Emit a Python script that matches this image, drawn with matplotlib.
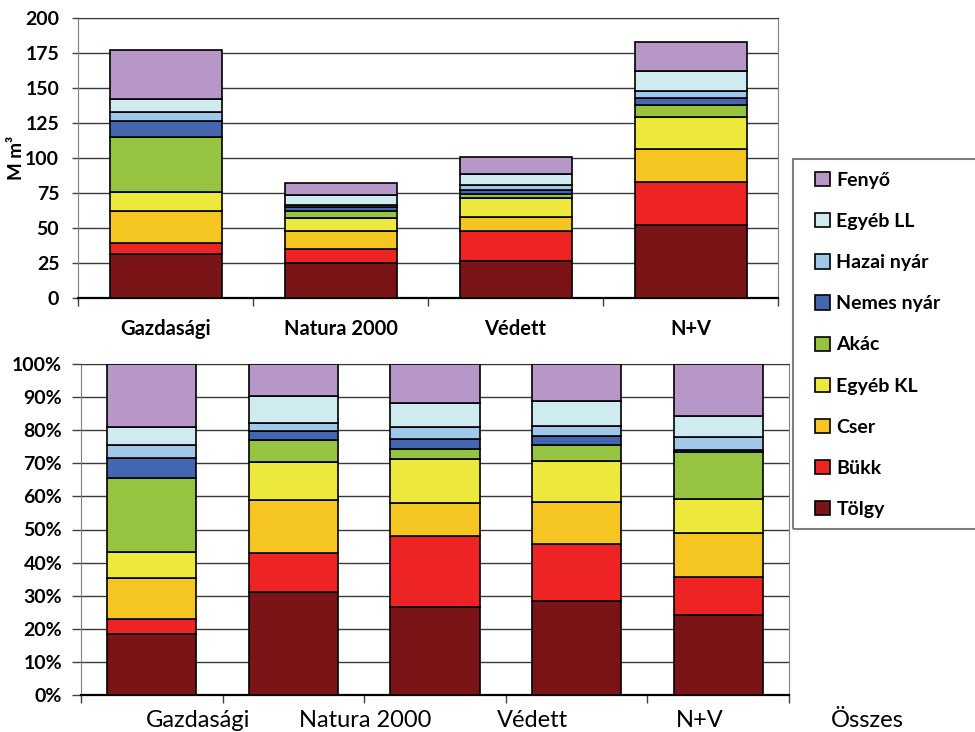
import numpy as np
import matplotlib
matplotlib.use("Agg")
import matplotlib.pyplot as plt
from matplotlib.patches import Patch, Rectangle

plt.rcParams['font.family'] = ['Lato', 'DejaVu Sans']

# species, bottom of stack first
species = ["Tölgy", "Bükk", "Cser", "Egyéb KL", "Akác",
           "Nemes nyár", "Hazai nyár", "Egyéb LL", "Fenyő"]
colors = ["#7B1416", "#EE2424", "#F5C622", "#EDE93C", "#96C340",
          "#4466B0", "#A0C8EA", "#D0EBF0", "#B797C8"]

# top chart: volume, M m3
cats_top = ["Gazdasági", "Natura 2000", "Védett", "N+V"]
vol_gazd = [31.4, 8.1, 22.9, 13.1, 39.7, 11.2, 6.5, 9.5, 34.5]
vol_natura = [25.2, 10.0, 12.9, 8.8, 5.5, 2.4, 1.9, 6.9, 8.3]
vol_vedett = [26.4, 21.7, 10.0, 13.3, 2.7, 3.3, 3.3, 7.9, 12.3]
vol_nv = [52.1, 31.0, 23.3, 23.1, 8.4, 4.7, 5.5, 14.3, 20.7]

# bottom chart: share, %
cats_bottom = ["Gazdasági", "Natura 2000", "Védett", "N+V", "Összes"]
pct_gazd = [18.3, 4.6, 12.3, 8.0, 22.3, 6.2, 3.8, 5.4, 19.1]
pct_natura = [31.1, 11.8, 16.1, 11.5, 6.6, 2.8, 2.2, 8.2, 9.7]
pct_vedett = [26.5, 21.6, 9.8, 13.3, 3.0, 3.1, 3.8, 7.0, 11.9]
pct_nv = [28.5, 17.2, 12.7, 12.3, 4.8, 2.6, 3.2, 7.6, 11.1]
pct_osszes = [24.3, 11.4, 13.1, 10.5, 14.1, 0.6, 3.8, 6.5, 15.7]

top = np.array([vol_gazd, vol_natura, vol_vedett, vol_nv]).T
bottom = np.array([pct_gazd, pct_natura, pct_vedett, pct_nv, pct_osszes]).T

W, H = 975, 732
fig = plt.figure(figsize=(W / 100, H / 100), dpi=100)
ax1 = fig.add_axes([78 / W, 1 - 298 / H, 700 / W, 280 / H])
ax2 = fig.add_axes([81 / W, 1 - 695 / H, 708 / W, 331 / H])


def stack(ax, data, width):
    x = np.arange(data.shape[1])
    base = np.zeros(data.shape[1])
    for i in range(data.shape[0]):
        ax.bar(x, data[i], width, bottom=base, color=colors[i],
               edgecolor='black', linewidth=1.2, zorder=3)
        base += data[i]
    return x


def style(ax, ylen, ypad):
    ax.set_axisbelow(True)
    ax.yaxis.grid(True, color='#3a3a3a', linewidth=1.0)
    ax.spines['left'].set_color('#808080')
    ax.spines['right'].set_color('#808080')
    ax.spines['top'].set_color('#3a3a3a')
    ax.spines['bottom'].set_color('#000000')
    ax.spines['bottom'].set_linewidth(1.6)
    ax.tick_params(axis='x', which='major', direction='out', length=6,
                   width=1, color='#404040')
    ax.tick_params(axis='y', which='major', direction='out', length=ylen,
                   width=1, color='#404040', pad=ypad)


# top chart
x1 = stack(ax1, top, 0.64)
ax1.set_xlim(-0.5, 3.5)
ax1.set_ylim(0, 200)
ax1.set_yticks(np.arange(0, 201, 25))
ax1.set_yticklabels([str(v) for v in range(0, 201, 25)],
                    fontsize=14, fontweight='bold')
ax1.set_xticks(np.arange(-0.5, 3.6, 1.0))
ax1.set_xticklabels([])
ax1.set_xticks(x1, cats_top, minor=True)
ax1.tick_params(axis='x', which='minor', length=0, pad=15)
for t in ax1.get_xticklabels(minor=True):
    t.set_fontsize(14.5)
    t.set_fontweight('bold')
ax1.set_ylabel("M m³", fontsize=13.5, fontweight='bold', labelpad=0)
style(ax1, 4.5, 9)

# bottom chart
x2 = stack(ax2, bottom, 0.63)
ax2.set_xlim(-0.5, 4.5)
ax2.set_ylim(0, 100)
ax2.set_yticks(np.arange(0, 101, 10))
ax2.set_yticklabels([f"{v}%" for v in range(0, 101, 10)],
                    fontsize=14, fontweight='bold')
ax2.set_xticks(np.arange(-0.5, 4.6, 1.0))
ax2.set_xticklabels([])
style(ax2, 6.5, 7)
label_pos = 0.33 + 1.18 * np.arange(len(cats_bottom))
for xp, lab in zip(label_pos, cats_bottom):
    ax2.text(xp, -0.076, lab, transform=ax2.get_xaxis_transform(),
             ha='center', va='center', fontsize=17, clip_on=False)

# legend
handles = [Patch(facecolor=c, edgecolor='black', linewidth=1.2)
           for c in colors][::-1]
fig.legend(handles, species[::-1], loc='upper left',
           bbox_to_anchor=(815 / W, 1 - 172 / H), frameon=False,
           prop={'size': 14, 'weight': 'bold'},
           handlelength=0.75, handleheight=0.75, handletextpad=0.35,
           labelspacing=1.24, borderaxespad=0, borderpad=0)
fig.add_artist(Rectangle((793 / W, 1 - 529 / H), 0.3, 370 / H,
                         transform=fig.transFigure, fill=False,
                         edgecolor='#7f7f7f', linewidth=1.5))

fig.savefig("out.png", dpi=100)
